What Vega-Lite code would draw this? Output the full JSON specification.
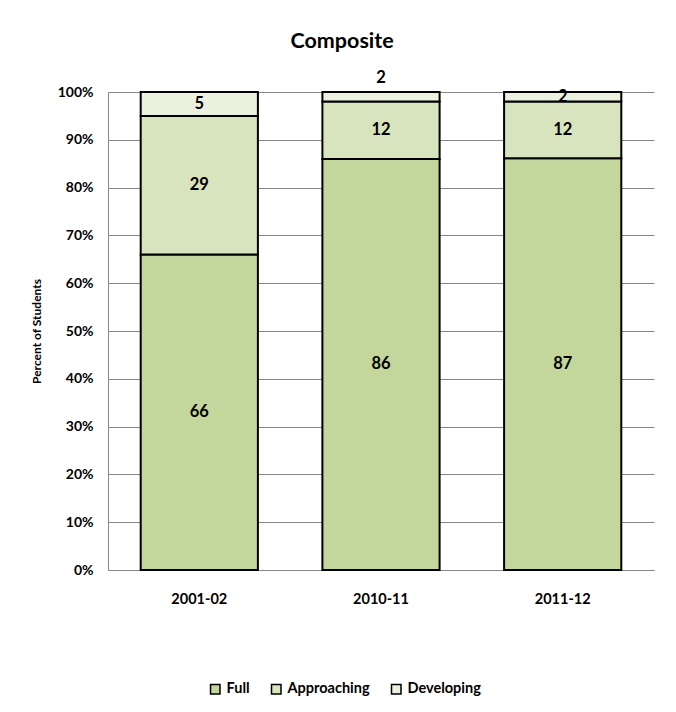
{
  "$schema": "https://vega.github.io/schema/vega-lite/v6.json",
  "width": 546,
  "height": 478,
  "autosize": {"type": "none"},
  "padding": {"left": 108, "top": 92, "right": 22, "bottom": 142},
  "background": "white",
  "title": {"text": "Composite", "font": "Lato", "fontSize": 21.5, "fontWeight": "bold", "color": "black", "anchor": "middle", "frame": "bounds", "offset": 18},
  "data": {
    "values": [
      {"year": "2001-02", "level": "Full", "value": 66},
      {"year": "2001-02", "level": "Approaching", "value": 29},
      {"year": "2001-02", "level": "Developing", "value": 5},
      {"year": "2010-11", "level": "Full", "value": 86},
      {"year": "2010-11", "level": "Approaching", "value": 12},
      {"year": "2010-11", "level": "Developing", "value": 2},
      {"year": "2011-12", "level": "Full", "value": 87},
      {"year": "2011-12", "level": "Approaching", "value": 12},
      {"year": "2011-12", "level": "Developing", "value": 2}
    ]
  },
  "encoding": {
    "x": {
      "field": "year", "type": "nominal",
      "scale": {"paddingInner": 0.355, "paddingOuter": 0.18},
      "axis": {"title": null, "labelAngle": 0, "labelFont": "Lato", "labelFontWeight": "bold", "labelFontSize": 14.5, "labelColor": "black", "labelPadding": 22, "ticks": false, "domainColor": "#868686", "domainWidth": 1}
    },
    "order": {"field": "value", "sort": "descending"}
  },
  "layer": [
    {
      "mark": {"type": "bar", "stroke": "black", "strokeWidth": 2},
      "encoding": {
        "y": {
          "field": "value", "type": "quantitative", "stack": "normalize",
          "scale": {"domain": [0, 1]},
          "axis": {"title": "Percent of Students", "titleFont": "Lato", "titleFontSize": 12, "titleFontWeight": "bold", "titleColor": "black", "titlePadding": 14, "format": ".0%", "values": [0, 0.1, 0.2, 0.3, 0.4, 0.5, 0.6, 0.7, 0.8, 0.9, 1], "labelFont": "Lato", "labelFontWeight": "bold", "labelFontSize": 14, "labelColor": "black", "labelPadding": 15, "ticks": false, "grid": true, "gridColor": "#868686", "gridWidth": 1, "domainColor": "#868686", "domainWidth": 1}
        },
        "color": {
          "field": "level", "type": "nominal",
          "scale": {"domain": ["Full", "Approaching", "Developing"], "range": ["#C3D69B", "#D7E4BD", "#EBF1DE"]},
          "legend": {"title": null, "orient": "none", "legendX": 100, "legendY": 590, "direction": "horizontal", "symbolType": "square", "symbolSize": 90, "symbolStrokeColor": "black", "symbolStrokeWidth": 1.5, "symbolOpacity": 1, "labelFont": "Lato", "labelFontWeight": "bold", "labelFontSize": 14.5, "labelColor": "black", "labelOffset": 4, "columnPadding": 18}
        }
      }
    },
    {
      "mark": {"type": "text", "font": "Lato", "fontWeight": "bold", "fontSize": 16.5, "color": "black", "baseline": "middle"},
      "encoding": {
        "y": {"field": "value", "type": "quantitative", "stack": "normalize", "bandPosition": 0.5},
        "detail": {"field": "level", "type": "nominal"},
        "text": {"field": "value", "type": "quantitative"},
        "opacity": {"condition": {"test": "datum.year == '2010-11' && datum.level == 'Developing'", "value": 0}, "value": 1}
      }
    },
    {
      "transform": [{"filter": "datum.year == '2010-11' && datum.level == 'Developing'"}],
      "mark": {"type": "text", "font": "Lato", "fontWeight": "bold", "fontSize": 16.5, "color": "black", "baseline": "middle", "dy": -14},
      "encoding": {
        "y": {"field": "value", "type": "quantitative", "stack": "normalize"},
        "detail": {"field": "level", "type": "nominal"},
        "text": {"field": "value", "type": "quantitative"}
      }
    }
  ],
  "config": {"view": {"stroke": null}}
}
